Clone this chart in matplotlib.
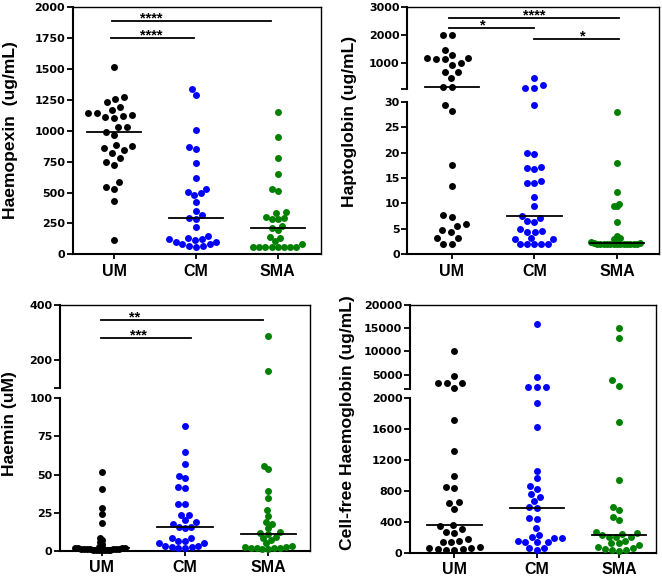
import numpy as np
import matplotlib
matplotlib.use('Agg')
import matplotlib.pyplot as plt

plt.rcParams['font.family'] = 'Liberation Sans'
plt.rcParams['font.weight'] = 'bold'

# ---------------- data ----------------
groups = ['UM', 'CM', 'SMA']
colours = ['#000000', '#0000ff', '#008000']

hpx_um = [1520, 1277, 1258, 1231, 1196, 1171, 1142, 1142, 1128, 1123, 1109, 1101, 1031, 1031,
          991, 966, 888, 880, 858, 845, 823, 780, 750, 721, 588, 548, 526, 435, 116]
hpx_cm = [1339, 1293, 1007, 872, 853, 742, 615, 526, 507, 494, 480, 426, 350, 318, 292, 288,
          223, 148, 134, 126, 122, 118, 102, 102, 81, 81, 68, 68, 62]
hpx_sma = [1152, 947, 777, 650, 529, 510, 340, 332, 305, 294, 283, 283, 232, 216, 197, 138,
           135, 108, 81, 62, 62, 62, 62, 62, 62, 62, 62]

hpt_um = [2000, 2000, 1475, 1296, 1200, 1178, 1143, 1143, 1000, 940, 700, 700, 464, 143, 143,
          29.3, 28.2, 17.6, 13.5, 7.7, 7.4, 5.9, 5.6, 4.8, 4.3, 3.3, 3.3, 2.0, 2.0]
hpt_cm = [475, 225, 118, 118, 29.3, 20.0, 19.8, 17.2, 17.0, 16.8, 14.5, 14.1, 14.1, 11.2, 9.5,
          7.5, 7.1, 6.6, 6.4, 4.9, 4.5, 4.3, 4.3, 3.2, 3.1, 3.0, 2.0, 2.0, 2.0, 2.0, 2.0]
hpt_sma = [27.9, 17.9, 12.3, 9.9, 9.5, 9.4, 6.3, 3.5, 3.2, 3.0, 2.8, 2.5, 2.3, 2.2, 2.1, 2.1,
           2.0, 2.0, 2.0, 2.0, 2.0, 2.0, 2.0, 2.0, 2.0, 2.0, 2.0]

hmn_um = [51.9, 40.3, 28.2, 23.9, 18.4, 8.1, 7.0, 5.9, 4.4, 2.6, 2.2, 1.9, 1.7, 1.6, 1.5, 1.4,
          1.3, 1.2, 1.1, 1.0, 0.9, 0.8, 0.7, 0.6, 0.5, 0.4, 0.3, 0.3, 0.2]
hmn_cm = [81.8, 65.0, 56.7, 49.2, 47.5, 41.6, 40.9, 30.4, 30.4, 23.4, 23.4, 20.1, 18.6, 17.5,
          15.8, 15.8, 14.7, 8.1, 8.1, 6.4, 6.4, 4.8, 4.8, 3.3, 3.3, 2.2, 2.2, 1.5, 1.5]
hmn_sma = [289, 159, 55.8, 53.6, 39.4, 34.3, 26.7, 23.0, 18.6, 17.3, 14.7, 12.0, 11.4, 10.9,
           9.2, 8.1, 7.0, 4.8, 2.8, 2.4, 2.0, 1.6, 1.3, 1.3, 1.6, 2.0, 2.4]

cfh_um = [10100, 4785, 3300, 3300, 3300, 2200, 1719, 1313, 994, 847, 834, 661, 648, 566, 359,
          350, 307, 272, 251, 174, 151, 140, 140, 80, 60, 45, 40, 40, 45, 60]
cfh_cm = [16000, 4570, 2420, 2420, 2420, 1935, 1633, 1063, 963, 868, 825, 760, 726, 670, 588,
          580, 445, 436, 316, 229, 207, 194, 194, 150, 135, 135, 135, 57, 57, 35]
cfh_sma = [14990, 12830, 3860, 2630, 1689, 942, 596, 553, 467, 423, 270, 250, 236, 229, 207,
           207, 200, 155, 120, 120, 95, 80, 65, 50, 40, 30, 25]

# significance bars: (x0, x1, y, stars, x of stars)
sig_hpx = [(-0.03, 1.92, 1889, '****', 0.45), (-0.04, 0.98, 1754, '****', 0.45)]
sig_hpt = [(-0.04, 2.03, 2607, '****', 1.0), (-0.04, 1.0, 2250, '*', 0.38),
           (1.0, 2.03, 1868, '*', 1.59)]
sig_hmn = [(-0.01, 1.94, 344.7, '**', 0.40), (-0.01, 1.07, 279.6, '***', 0.44)]

# ---------------- figure ----------------
W, H = 662, 583
fig = plt.figure(figsize=(W / 100, H / 100), dpi=100)


def frac(l, t, r, b):
    return [l / W, 1 - b / H, (r - l) / W, (b - t) / H]


def yfmt(ax, ticks, labels=None):
    if labels is None:
        labels = [str(int(t)) for t in ticks]
    ax.set_yticks(ticks, labels, fontfamily='DejaVu Sans', fontweight='bold', fontsize=8)
    ax.tick_params(axis='y', direction='out', length=4, width=1.3, pad=1.5)
    ax.spines['left'].set_linewidth(1.5)


def xfmt(ax, xlim):
    ax.set_xlim(*xlim)
    ax.set_xticks([0, 1, 2], groups, fontsize=11.5, fontweight='bold')
    ax.tick_params(axis='x', direction='out', length=3.5, width=1.3, pad=3.5)
    ax.spines['bottom'].set_linewidth(1.5)


def swarm_px(ypx, d):
    order = np.argsort(ypx, kind='stable')
    px, py = [], []
    out = np.zeros(len(ypx))
    for i in order:
        y = ypx[i]
        cand = [0.0]
        for xo, yo in zip(px, py):
            dy = y - yo
            if abs(dy) < d:
                dx = np.sqrt(d * d - dy * dy)
                cand += [xo - dx, xo + dx]
        cand.sort(key=abs)
        for c in cand:
            if all((c - xo) ** 2 + (y - yo) ** 2 >= d * d - 1e-6 for xo, yo in zip(px, py)):
                break
        out[i] = c
        px.append(c)
        py.append(y)
    return out


def spread(ypx, d=9.0, wmax=27.0):
    while True:
        xs = swarm_px(ypx, d)
        if len(xs) == 0 or np.abs(xs).max() <= wmax or d < 1.0:
            return xs
        d *= 0.94


def dots(ax, pos, vals, colour):
    vals = np.asarray(vals, float)
    if len(vals) == 0:
        return
    tr = ax.transData
    ypx = tr.transform(np.column_stack([np.full(len(vals), pos), vals]))[:, 1]
    ppu = tr.transform([[1, 0]])[0, 0] - tr.transform([[0, 0]])[0, 0]
    xs = pos + spread(ypx) / ppu
    ax.scatter(xs, vals, s=25, color=colour, linewidths=0, clip_on=False, zorder=3)


def draw_groups(lower, upper, split, data):
    for i, vals in enumerate(data):
        vals = np.asarray(vals, float)
        if upper is None:
            dots(lower, i, vals, colours[i])
            target = lower
        else:
            dots(lower, i, vals[vals < split], colours[i])
            dots(upper, i, vals[vals >= split], colours[i])
            target = upper if np.median(vals) >= split else lower
        med = np.median(vals)
        target.plot([i - 0.33, i + 0.33], [med, med], color='k', lw=1.3, zorder=4,
                    clip_on=False)


def draw_sig(ax, bars):
    for x0, x1, y, s, xs in bars:
        ax.plot([x0, x1], [y, y], color='k', lw=1.3, clip_on=False)
        ax.annotate(s, (xs, y), xytext=(0, -1), textcoords='offset points',
                    ha='center', va='baseline', fontsize=10.5, fontweight='bold')


def broken(l, t, r, b, ub, lt, xlim, ylo, yhi, tlo, thi):
    # frame (top + right lines over the whole panel)
    axf = fig.add_axes(frac(l, t, r, b), zorder=0)
    axf.set_xticks([])
    axf.set_yticks([])
    axf.patch.set_visible(False)
    for s in ['left', 'bottom']:
        axf.spines[s].set_visible(False)
    for s in ['top', 'right']:
        axf.spines[s].set_linewidth(1.0)

    axu = fig.add_axes(frac(l, t, r, ub), zorder=1)
    axl = fig.add_axes(frac(l, lt, r, b), zorder=1)
    for ax in (axu, axl):
        ax.patch.set_visible(False)
        for s in ['top', 'right']:
            ax.spines[s].set_visible(False)
    axu.spines['bottom'].set_visible(False)
    axu.set_xlim(*xlim)
    axu.set_xticks([])
    axu.set_ylim(*yhi)
    yfmt(axu, thi, [''] + [str(int(v)) for v in thi[1:]])
    axl.set_ylim(*ylo)
    yfmt(axl, tlo)
    xfmt(axl, xlim)
    return axu, axl


# ---- panel 1 : Haemopexin ----
ax1 = fig.add_axes(frac(72.7, 7.3, 321, 254.3))
ax1.set_ylim(0, 2000)
yfmt(ax1, np.arange(0, 2001, 250))
xfmt(ax1, (-0.51, 2.53))
for s in ['top', 'right']:
    ax1.spines[s].set_linewidth(1.0)
draw_groups(ax1, None, None, [hpx_um, hpx_cm, hpx_sma])
draw_sig(ax1, sig_hpx)
fig.text(10.3 / W, 1 - 130 / H, 'Haemopexin  (ug/mL)', rotation=90, ha='center', va='center',
         fontsize=12.6, fontweight='bold')

# ---- panel 2 : Haptoglobin ----
ax2u, ax2l = broken(407.3, 7.3, 659, 254.3, 88.5, 101.7, (-0.54, 2.51),
                    (0, 30), (100, 3000), np.arange(0, 31, 5), [100, 1000, 2000, 3000])
draw_groups(ax2l, ax2u, 100, [hpt_um, hpt_cm, hpt_sma])
draw_sig(ax2u, sig_hpt)
fig.text(349.3 / W, 1 - 121 / H, 'Haptoglobin (ug/mL)', rotation=90, ha='center', va='center',
         fontsize=12.6, fontweight='bold')

# ---- panel 3 : Haemin ----
ax3u, ax3l = broken(60, 305, 310, 550.7, 387.7, 398.3, (-0.5, 2.5),
                    (0, 100), (100, 400), np.arange(0, 101, 25), [100, 200, 400])
draw_groups(ax3l, ax3u, 100, [hmn_um, hmn_cm, hmn_sma])
draw_sig(ax3u, sig_hmn)
fig.text(10 / W, 1 - 424 / H, 'Haemin (uM)', rotation=90, ha='center', va='center',
         fontsize=12.6, fontweight='bold')

# ---- panel 4 : Cell-free Haemoglobin ----
ax4u, ax4l = broken(410, 305, 656, 552.7, 388.6, 398.3, (-0.54, 2.45),
                    (0, 2000), (2000, 20000), np.arange(0, 2001, 400),
                    [2000, 5000, 10000, 15000, 20000])
draw_groups(ax4l, ax4u, 2000, [cfh_um, cfh_cm, cfh_sma])
fig.text(347.3 / W, 1 - 422.5 / H, 'Cell-free Haemoglobin (ug/mL)', rotation=90, ha='center',
         va='center', fontsize=12.6, fontweight='bold')

fig.savefig('out.png', dpi=100)
